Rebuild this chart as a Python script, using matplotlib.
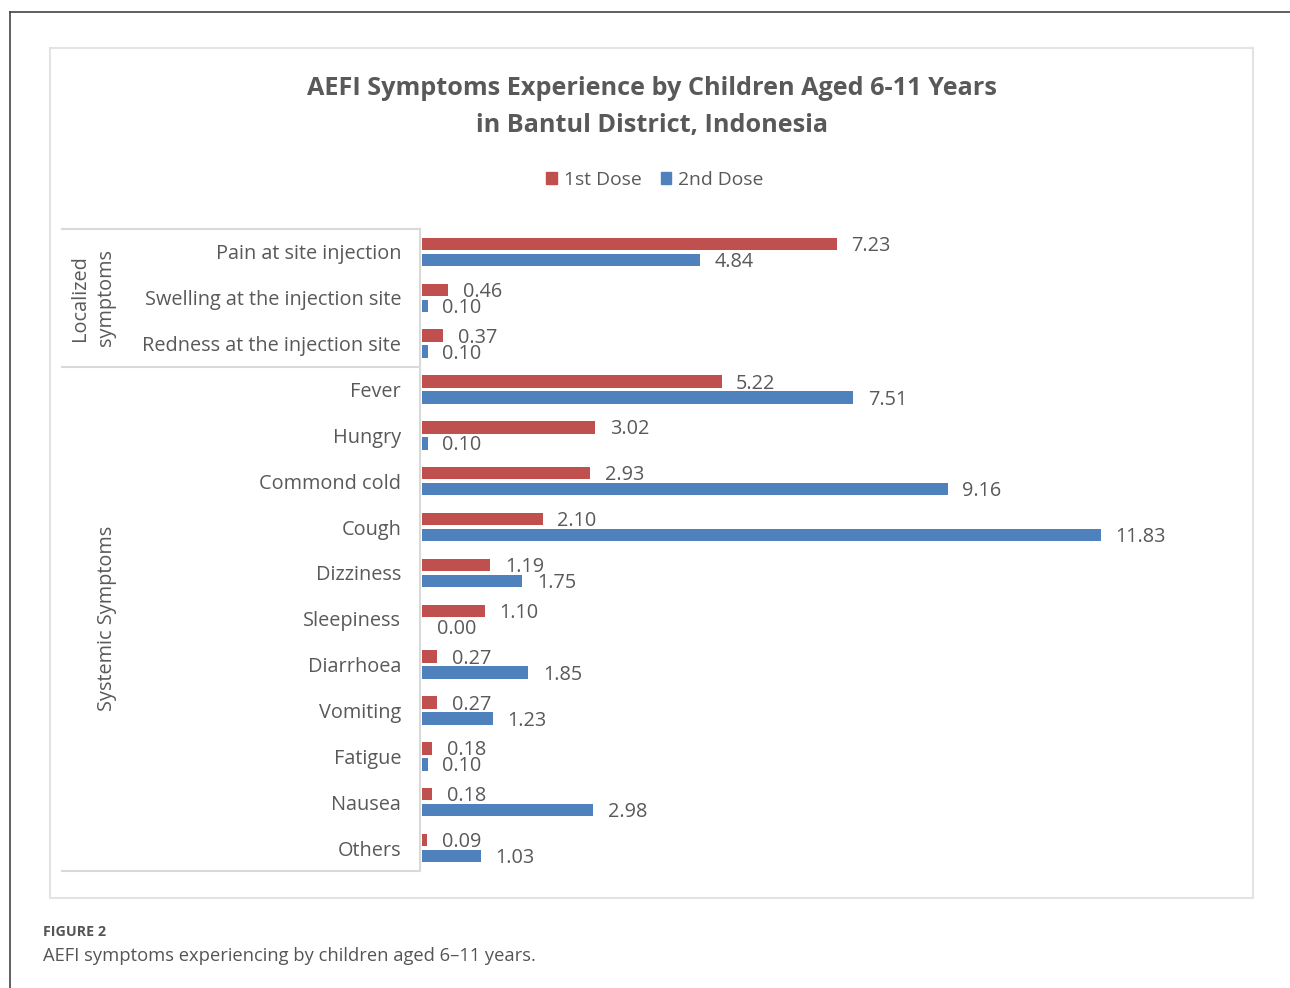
import matplotlib
matplotlib.use("Agg")
import matplotlib.pyplot as plt
from matplotlib.lines import Line2D
from matplotlib.patches import Rectangle, Patch
import numpy as np

plt.rcParams['font.family'] = ['Open Sans', 'DejaVu Sans']

# data
symptoms = ["Pain at site injection", "Swelling at the injection site",
            "Redness at the injection site", "Fever", "Hungry", "Commond cold",
            "Cough", "Dizziness", "Sleepiness", "Diarrhoea", "Vomiting",
            "Fatigue", "Nausea", "Others"]
dose1 = [7.23, 0.46, 0.37, 5.22, 3.02, 2.93, 2.10, 1.19, 1.10, 0.27, 0.27, 0.18, 0.18, 0.09]
dose2 = [4.84, 0.10, 0.10, 7.51, 0.10, 9.16, 11.83, 1.75, 0.00, 1.85, 1.23, 0.10, 2.98, 1.03]
groups = ["Localized\nsymptoms", "Systemic Symptoms"]
group_sizes = [3, 11]

RED = "#C0504D"
BLUE = "#4F81BD"
TXT = "#595959"
GRID = "#D9D9D9"
FS = 14.3

W, H = 1290, 988
fig = plt.figure(figsize=(W / 100, H / 100), dpi=100)

def fx(px):
    return px / W

def fy(py):
    return 1 - py / H

# page border (top and left) and inner chart box
fig.add_artist(Line2D([fx(10), fx(1290)], [fy(12), fy(12)], color="#444444", lw=1.2))
fig.add_artist(Line2D([fx(10), fx(10)], [fy(12), fy(988)], color="#444444", lw=1.2))
fig.add_artist(Rectangle((fx(50), fy(898)), fx(1253) - fx(50), fy(48) - fy(898),
                         transform=fig.transFigure, fill=False, ec="#E3E3E3", lw=1.5))

ax = fig.add_axes([fx(422), fy(871), 14 * 57.4 / W, fy(229) - fy(871)])
y = np.arange(len(symptoms))
off = 0.175
h = 0.27
ax.barh(y - off, dose1, height=h, color=RED, label="1st Dose")
ax.barh(y + off, dose2, height=h, color=BLUE, label="2nd Dose")

# value labels, same style as the excel data labels
for yi, v in zip(y, dose1):
    ax.annotate(f"{v:.2f}", (v, yi - off), xytext=(10.5, -1.5), textcoords="offset points",
                va="center", ha="left", fontsize=FS, color=TXT)
for yi, v in zip(y, dose2):
    ax.annotate(f"{v:.2f}", (v, yi + off), xytext=(10.5, -1.5), textcoords="offset points",
                va="center", ha="left", fontsize=FS, color=TXT)

ax.set_xlim(0, 14)
ax.set_ylim(len(symptoms) - 0.5, -0.5)
ax.set_yticks(y)
ax.set_yticklabels(symptoms, fontsize=FS, color=TXT)
ax.tick_params(axis="y", length=0, pad=15)
ax.set_xticks([])
for s in ax.spines.values():
    s.set_visible(False)

# category table on the left
fig.add_artist(Line2D([fx(420), fx(420)], [fy(229), fy(871)], color=GRID, lw=1.5))
bounds = [229]
for n in group_sizes:
    bounds.append(bounds[-1] + n * (871 - 229) / len(symptoms))
for b in bounds:
    fig.add_artist(Line2D([fx(62), fx(420)], [fy(b), fy(b)], color=GRID, lw=1.5))
group_x = [93, 107]
for g, gx, top, bot in zip(groups, group_x, bounds[:-1], bounds[1:]):
    fig.text(fx(gx), fy((top + bot) / 2), g, rotation=90, ha="center", va="center",
             fontsize=FS, color=TXT, linespacing=1.35, multialignment="center")

# title and legend
fig.text(fx(652), fy(107), "AEFI Symptoms Experience by Children Aged 6-11 Years\nin Bantul District, Indonesia",
         ha="center", va="center", fontsize=18.2, fontweight="bold", color=TXT, linespacing=1.62)
handles = [Patch(color=RED, label="1st Dose"), Patch(color=BLUE, label="2nd Dose")]
fig.legend(handles=handles, loc="center", bbox_to_anchor=(fx(655), fy(180)), ncol=2,
           frameon=False, fontsize=13.9, handlelength=0.55, handleheight=0.55,
           handletextpad=0.35, columnspacing=1.0, labelcolor=TXT)

# caption
fig.text(fx(43), fy(932), "FIGURE 2", fontsize=10.3, fontweight="bold", color="#555555",
         ha="left", va="center")
fig.text(fx(43), fy(956), "AEFI symptoms experiencing by children aged 6\u201311 years.",
         fontsize=13.2, color="#555555", ha="left", va="center")

fig.savefig("out.png", dpi=100, facecolor="white")
